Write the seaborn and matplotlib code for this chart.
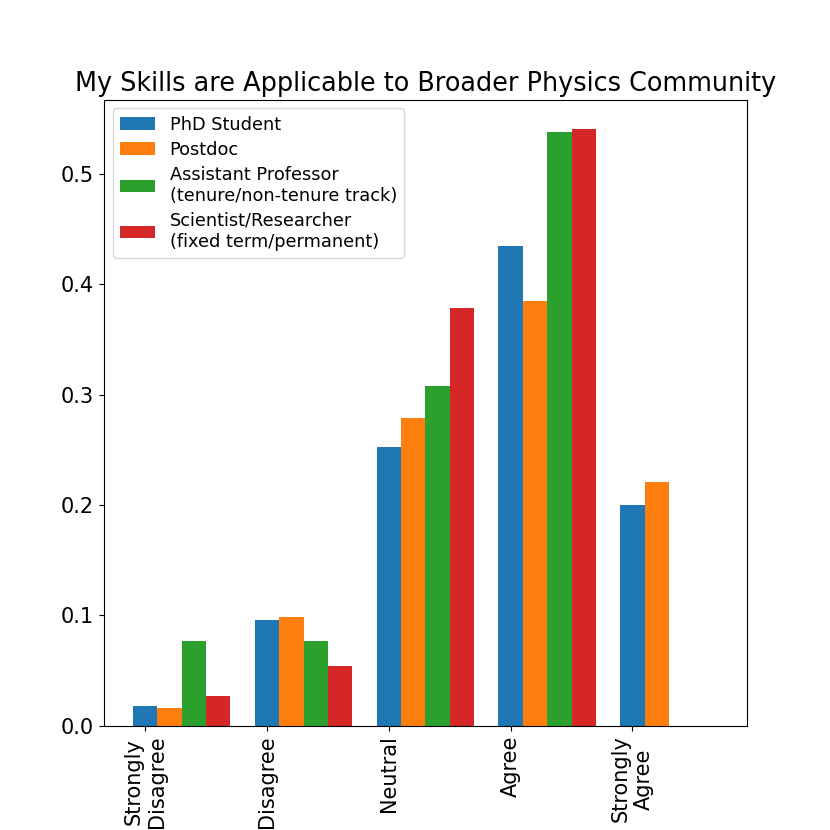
import matplotlib
matplotlib.use("Agg")
import matplotlib.pyplot as plt
import seaborn as sns
import pandas as pd

categories = ["Strongly\nDisagree", "Disagree", "Neutral", "Agree", "Strongly\nAgree"]
groups = ["PhD Student", "Postdoc",
          "Assistant Professor\n(tenure/non-tenure track)",
          "Scientist/Researcher\n(fixed term/permanent)"]
phd = [0.0174, 0.0957, 0.2522, 0.4348, 0.2000]
postdoc = [0.0164, 0.0984, 0.2787, 0.3852, 0.2213]
asst_prof = [0.0769, 0.0769, 0.3077, 0.5385, 0.0]
scientist = [0.0270, 0.0541, 0.3784, 0.5405, 0.0]
colors = ["#1f77b4", "#ff7f0e", "#2ca02c", "#d62728"]
title = "My Skills are Applicable to Broader Physics Community"

series = [phd, postdoc, asst_prof, scientist]
rows = []
for g, vals in zip(groups, series):
    for c, v in zip(categories, vals):
        rows.append({"category": c, "group": g, "value": v})
df = pd.DataFrame(rows)

fig, ax = plt.subplots(figsize=(8.3, 8.3), dpi=100)
fig.subplots_adjust(left=0.125, right=0.9, top=0.88, bottom=0.1257)

sns.barplot(data=df, x="category", y="value", hue="group",
            order=categories, hue_order=groups,
            palette=colors, saturation=1, width=0.8, ax=ax,
            errorbar=None)

n_groups = len(groups)
offset = -0.8 / 2 + 0.8 / n_groups / 2
ax.set_xticks([i + offset for i in range(len(categories))])
ax.set_xticklabels(categories, rotation=90, fontsize=15)
ax.set_xlim(-0.34 + offset, 4.94 + offset)
ax.tick_params(axis="y", labelsize=15)
ax.set_xlabel("")
ax.set_ylabel("")
ax.set_title(title, fontsize=18.4)
ax.legend(loc="upper left", fontsize=12.8, labelspacing=0.4)

fig.savefig("out.png", dpi=100)
